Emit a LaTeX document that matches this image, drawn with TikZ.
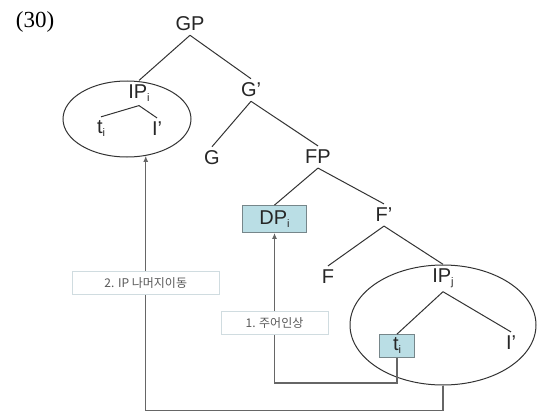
\documentclass[tikz,border=0pt]{standalone}
\usepackage{fontspec}
\setmainfont{Liberation Sans}
\newfontfamily\krfont{Noto Sans CJK KR}
\newfontfamily\numfont{Liberation Serif}
\usetikzlibrary{shapes.geometric,arrows.meta}
\definecolor{boxblue}{RGB}{186,222,229}
\definecolor{boxline}{RGB}{118,134,138}
\definecolor{tagline}{RGB}{208,220,224}
\newcommand{\lowsub}[1]{\raisebox{-3pt}{\fontsize{11}{11}\selectfont #1}}

\begin{document}
\begin{tikzpicture}[x=1pt,y=-1pt,
  lab/.style={inner sep=4pt,text=black!85,font=\fontsize{20}{23}\selectfont},
  trace/.style={lab,draw=boxline,fill=boxblue,line width=0.8pt,inner sep=0pt,minimum height=27},
  ring/.style={ellipse,draw=black!80,line width=1pt,inner sep=0pt},
  branch/.style={draw=black!80,line width=1pt},
  move/.style={draw=black!60,line width=1.3pt,-{Latex[length=6pt,width=5pt]}},
  tag/.style={fill=white,draw=tagline,line width=0.8pt,text=black!65,minimum height=23,
    font=\krfont\fontsize{12}{14}\selectfont}]
\useasboundingbox (0,0) rectangle (538,412);

\node[ring,minimum width=128,minimum height=76] (ipiring) at (127,119) {};
\node[ring,minimum width=186,minimum height=120] (ipjring) at (443,325) {};

\node[font=\numfont\fontsize{23}{26}\selectfont] (num) at (35,22) {(30)};
\node[lab] (gp) at (190,24) {GP};
\node[lab] (ipi) at (139,93) {IP\lowsub{i}};
\node[lab] (tii) at (101,129) {t\lowsub{i}};
\node[lab] (ibari) at (157,129) {I'};
\node[lab] (gbar) at (251,90) {G'};
\node[lab] (g) at (212,158) {G};
\node[lab] (fp) at (318,157) {FP};
\node[trace,minimum width=64] (dpi) at (274.5,219) {DP\lowsub{i}};
\node[lab] (fbar) at (384,215) {F'};
\node[lab] (f) at (328,277) {F};
\node[lab] (ipj) at (443,278) {IP\lowsub{j}};
\node[trace,minimum width=35,minimum height=23] (tij) at (397,346) {t\lowsub{i}};
\node[lab] (ibarj) at (511,343) {I'};

\draw[branch] (gp.south) -- (ipi.north);
\draw[branch] (gp.south) -- (gbar.north);
\draw[branch] (ipi.south) -- (tii.north);
\draw[branch] (ipi.south) -- (ibari.north);
\draw[branch] (gbar.south) -- (g.north);
\draw[branch] (gbar.south) -- (fp.north);
\draw[branch] (fp.south) -- (dpi.north);
\draw[branch] (fp.south) -- (fbar.north);
\draw[branch] (fbar.south) -- (f.north);
\draw[branch] (fbar.south) -- (ipj.north);
\draw[branch] (ipj.south) -- (tij.north);
\draw[branch] (ipj.south) -- (ibarj.north);

% movements
\draw[move] (tij.south) -- ++(0,25) -| node[tag,pos=0.7,minimum width=107] {1. 주어인상} (dpi.south);
\draw[move] (ipjring.south) -- ++(0,25) -| node[tag,pos=0.75,minimum width=147] {2. IP 나머지이동} (ipiring.-63);
\end{tikzpicture}
\end{document}
